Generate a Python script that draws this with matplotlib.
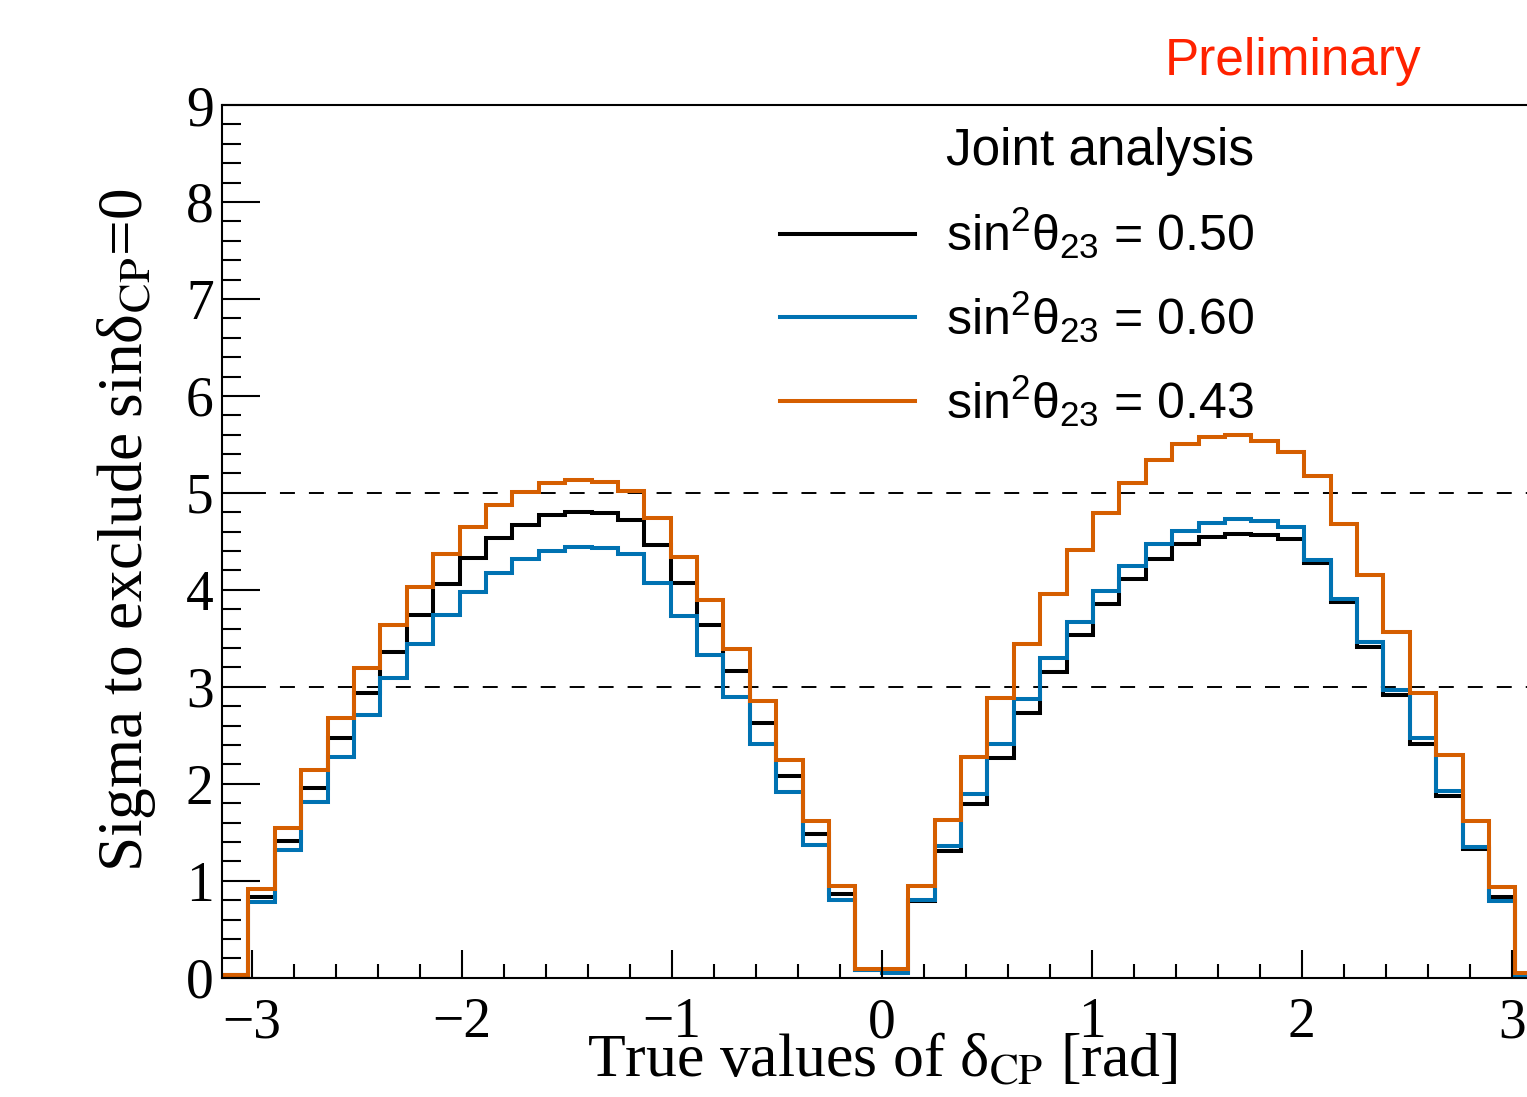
import matplotlib
matplotlib.use("Agg")
import matplotlib.pyplot as plt
from matplotlib.lines import Line2D
from matplotlib.ticker import MultipleLocator
import numpy as np

# 50 bins over [-pi, pi]
N_BINS = 50

# sin^2(theta23) = 0.50
sig_050 = [0.03, 0.83, 1.41, 1.96, 2.47, 2.94, 3.36, 3.74, 4.06, 4.33,
           4.53, 4.67, 4.77, 4.80, 4.79, 4.72, 4.46, 4.07, 3.64, 3.16,
           2.63, 2.08, 1.48, 0.86, 0.08, 0.06, 0.79, 1.31, 1.79, 2.27,
           2.73, 3.15, 3.53, 3.85, 4.11, 4.32, 4.47, 4.55, 4.58, 4.57,
           4.52, 4.28, 3.87, 3.41, 2.92, 2.41, 1.87, 1.33, 0.83, 0.03]
# sin^2(theta23) = 0.60
sig_060 = [0.03, 0.78, 1.32, 1.81, 2.28, 2.71, 3.09, 3.44, 3.74, 3.98,
           4.17, 4.32, 4.40, 4.44, 4.43, 4.37, 4.07, 3.73, 3.33, 2.89,
           2.41, 1.91, 1.37, 0.80, 0.08, 0.05, 0.80, 1.36, 1.89, 2.41,
           2.87, 3.30, 3.67, 3.99, 4.25, 4.47, 4.61, 4.69, 4.73, 4.71,
           4.65, 4.31, 3.91, 3.46, 2.97, 2.47, 1.93, 1.35, 0.79, 0.02]
# sin^2(theta23) = 0.43
sig_043 = [0.03, 0.91, 1.54, 2.14, 2.68, 3.19, 3.64, 4.03, 4.37, 4.65,
           4.87, 5.01, 5.10, 5.13, 5.11, 5.02, 4.74, 4.34, 3.90, 3.39,
           2.85, 2.25, 1.62, 0.95, 0.09, 0.09, 0.95, 1.63, 2.28, 2.88,
           3.44, 3.96, 4.41, 4.79, 5.10, 5.34, 5.50, 5.58, 5.60, 5.53,
           5.42, 5.17, 4.68, 4.15, 3.56, 2.94, 2.30, 1.62, 0.94, 0.05]

series_labels = ["0.50", "0.60", "0.43"]
series_colors = ["#000000", "#0072B2", "#D55E00"]
ref_levels = [3, 5]

W, H = 1527, 1097
AX_L, AX_R, AX_T, AX_B = 222, 1541.7, 105, 977.7
fig = plt.figure(figsize=(W / 100, H / 100), dpi=100)
ax = fig.add_axes([AX_L / W, 1 - AX_B / H, (AX_R - AX_L) / W, (AX_B - AX_T) / H])

edges = np.linspace(-np.pi, np.pi, N_BINS + 1)
for vals, col in zip([sig_050, sig_060, sig_043], series_colors):
    ax.stairs(vals, edges, baseline=None, color=col, lw=2.9)

for lv in ref_levels:
    ax.axhline(lv, color="black", lw=1.4, ls=(0, (7.7, 7.2)), zorder=0.5)

ax.set_xlim(-np.pi, np.pi)
ax.set_ylim(0, 9)

ax.spines["right"].set_visible(False)
for s in ["left", "bottom", "top"]:
    ax.spines[s].set_linewidth(1.5)

ax.xaxis.set_major_locator(MultipleLocator(1))
ax.xaxis.set_minor_locator(MultipleLocator(0.2))
ax.yaxis.set_major_locator(MultipleLocator(1))
ax.yaxis.set_minor_locator(MultipleLocator(0.2))
ax.tick_params(axis="x", which="major", direction="in", length=20, width=1.5,
               pad=14, labelsize=40)
ax.tick_params(axis="x", which="minor", direction="in", length=10, width=1.5)
ax.tick_params(axis="y", which="major", direction="in", length=27, width=1.5,
               pad=6, labelsize=40)
ax.tick_params(axis="y", which="minor", direction="in", length=14, width=1.5)
for lab in ax.get_xticklabels() + ax.get_yticklabels():
    lab.set_fontfamily("Liberation Serif")

ax.set_xlabel("True values of δ$_{\\mathrm{CP}}$ [rad]", fontsize=44.5,
              family="Liberation Serif", math_fontfamily="stix")
ax.set_ylabel("Sigma to exclude sinδ$_{\\mathrm{CP}}$=0", fontsize=45.5,
              family="Liberation Serif", math_fontfamily="stix")
ax.xaxis.set_label_coords((882 - AX_L) / (AX_R - AX_L), -0.063)
ax.yaxis.set_label_coords((158 - AX_L) / (AX_R - AX_L), (AX_B - 530) / (AX_B - AX_T))

plt.rcParams["mathtext.fontset"] = "custom"
plt.rcParams["mathtext.rm"] = "Liberation Sans"
plt.rcParams["mathtext.it"] = "Liberation Sans"

handles = []
labels = []
for lab, col in zip(series_labels, series_colors):
    handles.append(Line2D([], [], color=col, lw=2.9))
    labels.append("sin$^{\\mathrm{2}}$θ$_{\\mathrm{23}}$ = " + lab)
leg = ax.legend(handles, labels, loc="upper left",
                bbox_to_anchor=(780 / W, 1 - 205 / H), bbox_transform=fig.transFigure,
                frameon=False, handlelength=2.7, handletextpad=0.62,
                labelspacing=0.55, borderpad=0.0, borderaxespad=0.0,
                prop={"family": "Liberation Sans", "size": 36})

fig.text(946 / W, 1 - 165 / H, "Joint analysis", fontsize=37,
         family="Liberation Sans", va="baseline", ha="left")
fig.text(1165 / W, 1 - 75 / H, "Preliminary", color="#FF2200", fontsize=37,
         family="Liberation Sans", va="baseline", ha="left")

fig.savefig("out.png", dpi=100)
